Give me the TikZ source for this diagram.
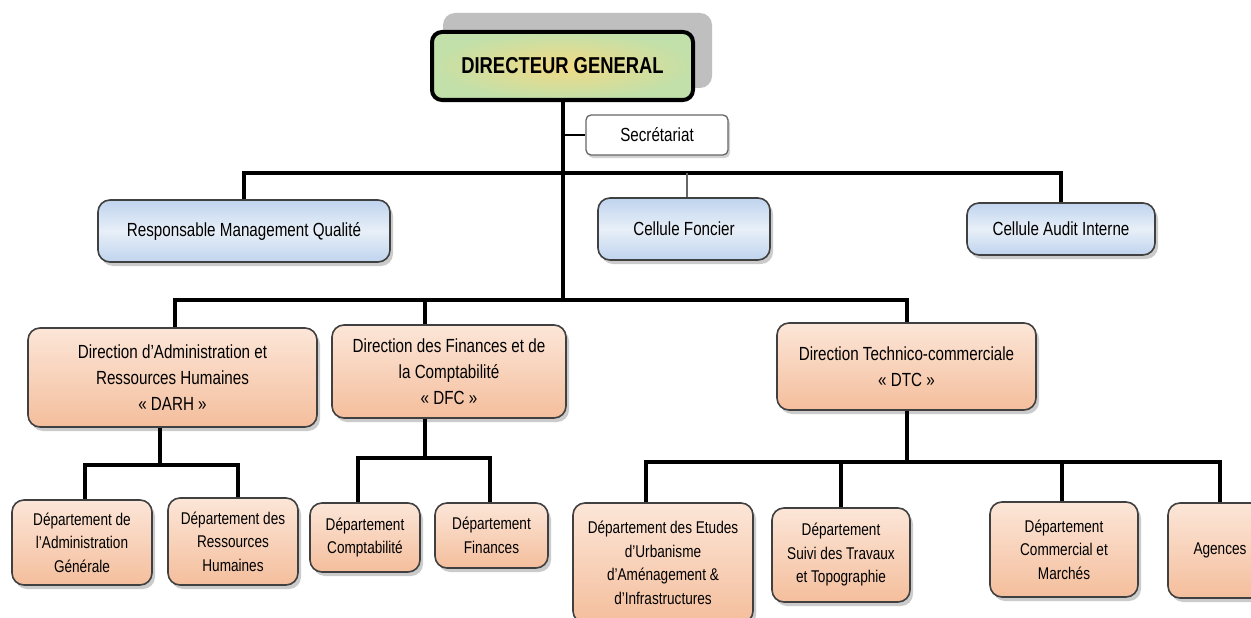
\documentclass[tikz,border=0pt]{standalone}
\usepackage{fontspec}
\setmainfont[FakeStretch=0.8]{Liberation Sans}
\usetikzlibrary{shadows}
\definecolor{blueA}{HTML}{BFD4EE}
\definecolor{blueB}{HTML}{E8EFF8}
\definecolor{orA}{HTML}{FCE6D8}
\definecolor{orB}{HTML}{F4BE9C}
\definecolor{grA}{HTML}{F2DA84}
\definecolor{grB}{HTML}{C2E0AA}
\tikzset{
  box/.style={draw=black!75, line width=1.6pt, rounded corners=12pt, align=center, inner sep=2pt,
    drop shadow={shadow xshift=3pt, shadow yshift=-4pt, fill=black!45, opacity=0.45}},
  bluebox/.style={box, top color=blueA, bottom color=blueA, middle color=blueB, font=\fontsize{19}{26}\selectfont},
  dirbox/.style={box, top color=orA, bottom color=orB, font=\fontsize{19}{26}\selectfont},
  depbox/.style={box, top color=orA, bottom color=orB, font=\fontsize{17}{23.5}\selectfont},
  conn/.style={line width=4pt, black},
  thinconn/.style={line width=1.5pt, black!60},
}
\begin{document}
\begin{tikzpicture}[x=1pt,y=-1pt]
\clip (0,0) rectangle (1251,618);
\fill[white] (0,0) rectangle (1251,618);
% director
\fill[black!25, rounded corners=12pt] (443,13) rectangle (712,88);
\node[draw=black, line width=4pt, rounded corners=10pt, inner color=grA, outer color=grB,
  minimum width=261pt, minimum height=68pt, font=\fontsize{23}{26}\selectfont\bfseries]
  (dg) at (562.5,66) {DIRECTEUR GENERAL};
\node[draw=black!60, line width=1.3pt, rounded corners=5pt, fill=white,
  drop shadow={shadow xshift=2pt, shadow yshift=-3pt, fill=black!35, opacity=0.5},
  minimum width=142pt, minimum height=40pt, font=\fontsize{19}{24}\selectfont]
  (sec) at (657,135) {Secrétariat};
% staff
\node[bluebox, minimum width=292pt, minimum height=62pt] (rmq) at (244,231) {Responsable Management Qualité};
\node[bluebox, minimum width=172pt, minimum height=62pt] (fon) at (684,229) {Cellule Foncier};
\node[bluebox, minimum width=188pt, minimum height=52pt] (aud) at (1061,229) {Cellule Audit Interne};
% directions
\node[dirbox, minimum width=289pt, minimum height=99pt] (darh) at (172.5,377.5) {Direction d’Administration et\\Ressources Humaines\\« DARH »};
\node[dirbox, minimum width=234pt, minimum height=93pt] (dfc) at (449,371.5) {Direction des Finances et de\\la Comptabilité\\« DFC »};
\node[dirbox, minimum width=259pt, minimum height=87pt] (dtc) at (906.5,366.5) {Direction Technico-commerciale\\« DTC »};
% departments
\node[depbox, minimum width=140pt, minimum height=85pt] (adm) at (82,542.5) {Département de\\l’Administration\\Générale};
\node[depbox, minimum width=130pt, minimum height=87pt] (rh) at (233,541.5) {Département des\\Ressources\\Humaines};
\node[depbox, minimum width=110pt, minimum height=69pt] (cpt) at (365,537.5) {Département\\Comptabilité};
\node[depbox, minimum width=113pt, minimum height=65pt] (fin) at (491.5,535.5) {Département\\Finances};
\node[depbox, minimum width=180pt, minimum height=120pt] (etu) at (663,563) {Département des Etudes\\d’Urbanisme\\d’Aménagement \&\\d’Infrastructures};
\node[depbox, minimum width=138pt, minimum height=94pt] (sui) at (841,555) {Département\\Suivi des Travaux\\et Topographie};
\node[depbox, minimum width=148pt, minimum height=95pt] (com) at (1064,549.5) {Département\\Commercial et\\Marchés};
\node[depbox, minimum width=104pt, minimum height=95pt] (age) at (1220,550.5) {Agences};
% junctions
\coordinate (j1) at (562.5,173);
\coordinate (j2) at (562.5,300);
\coordinate (j3) at (160,465);
\coordinate (j4) at (425,458);
\coordinate (j5) at (907,462);
% connectors
\draw[conn] (dg.south) -- (j2);
\draw[line width=2.5pt, black] (j1 |- sec.west) -- (sec.west);
\draw[conn] (rmq.north) |- (j1) -| (aud.north);
\draw[thinconn] ([xshift=3pt]fon.north) -- ([xshift=3pt]fon.north |- j1);
\draw[conn] ([xshift=2.5pt]darh.north) |- (j2) -| (dtc.north);
\draw[conn] ([xshift=-24pt]dfc.north) -- ([xshift=-24pt]dfc.north |- j2);
\draw[conn] ([xshift=-12.5pt]darh.south) -- (j3);
\draw[conn] ([xshift=3pt]adm.north) |- (j3) -| ([xshift=5pt]rh.north);
\draw[conn] ([xshift=-24pt]dfc.south) -- (j4);
\draw[conn] ([xshift=-7pt]cpt.north) |- (j4) -| ([xshift=-2pt]fin.north);
\draw[conn] (dtc.south) -- (dtc.south |- j5);
\draw[conn] ([xshift=-17pt]etu.north) |- (j5) -| (age.north);
\draw[conn] (sui.north) -- (sui.north |- j5);
\draw[conn] ([xshift=-2pt]com.north) -- ([xshift=-2pt]com.north |- j5);
\end{tikzpicture}
\end{document}
